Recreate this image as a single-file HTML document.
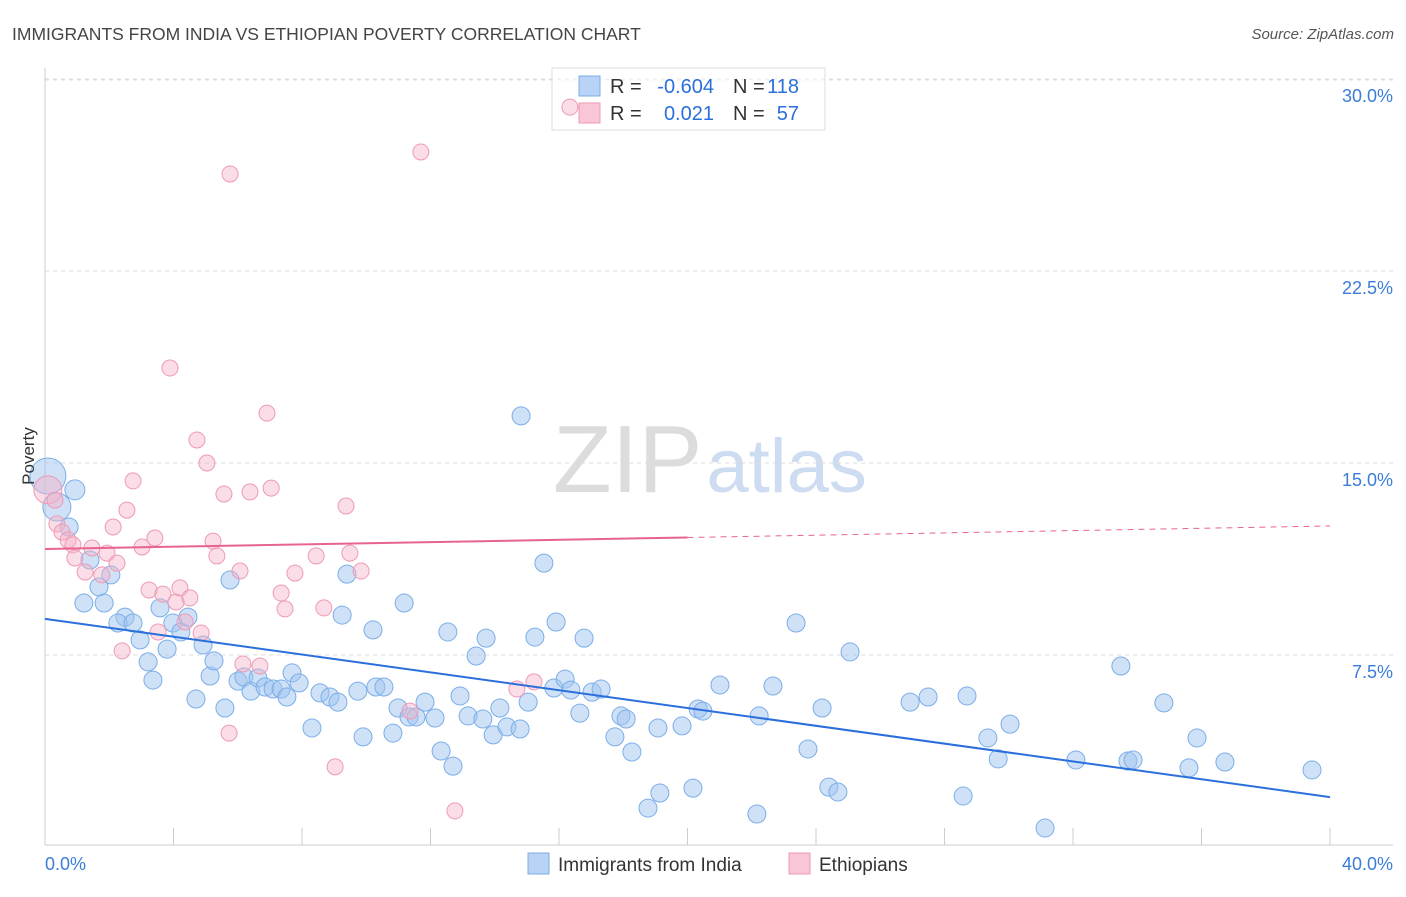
<!DOCTYPE html>
<html><head><meta charset="utf-8"><style>
body{margin:0;background:#fff;font-family:"Liberation Sans",sans-serif}
svg text{font-family:"Liberation Sans",sans-serif}
</style></head><body>
<svg id="chart" width="1406" height="892" xmlns="http://www.w3.org/2000/svg">
<text x="12" y="40" font-size="17.5" fill="#444">IMMIGRANTS FROM INDIA VS ETHIOPIAN POVERTY CORRELATION CHART</text>
<text x="1394" y="39" font-size="15" fill="#555" text-anchor="end" font-style="italic">Source: ZipAtlas.com</text>
<text x="553" y="492" font-size="96" fill="#dcdcdc" font-family="Liberation Serif">ZIP<tspan fill="#cddcf0" font-family="Liberation Sans" font-size="76" dx="4">atlas</tspan></text>
<g id="grid"></g><g id="axes"></g>
<g>
<rect x="552" y="68" width="273" height="62" fill="rgba(255,255,255,0.55)" stroke="#ddd"/>
<rect x="579" y="76" width="21" height="20" fill="#b8d3f5" stroke="#7baee8"/>
<rect x="579" y="103" width="21" height="20" fill="#f8c6d6" stroke="#ee9ab5"/>
<text x="610" y="93" font-size="20" fill="#333">R =</text>
<text x="714" y="93" font-size="20" fill="#2a6fdb" text-anchor="end">-0.604</text>
<text x="733" y="93" font-size="20" fill="#333">N =</text>
<text x="799" y="93" font-size="20" fill="#2a6fdb" text-anchor="end">118</text>
<text x="610" y="120" font-size="20" fill="#333">R =</text>
<text x="714" y="120" font-size="20" fill="#2a6fdb" text-anchor="end">0.021</text>
<text x="733" y="120" font-size="20" fill="#333">N =</text>
<text x="799" y="120" font-size="20" fill="#2a6fdb" text-anchor="end">57</text>
</g>
<g id="marks"></g>
<text transform="translate(34,456) rotate(-90)" font-size="17" fill="#333" text-anchor="middle">Poverty</text>
<text x="45" y="870" font-size="18" fill="#3b7dd8">0.0%</text>
<text x="1393" y="870" font-size="18" fill="#3b7dd8" text-anchor="end">40.0%</text>
<g>
<rect x="528" y="853" width="21" height="21" fill="#b8d3f5" stroke="#7baee8"/>
<text x="558" y="871" font-size="19" fill="#333">Immigrants from India</text>
<rect x="789" y="853" width="21" height="21" fill="#f8c6d6" stroke="#ee9ab5"/>
<text x="819" y="871" font-size="19" fill="#333">Ethiopians</text>
</g>
</svg>
<script>
const yTicks=[7.5,15,22.5,30];
const yTickLabels=["7.5%","15.0%","22.5%","30.0%"];
const blueX=[0.09,0.37,0.93,0.75,1.40,2.05,1.68,1.21,1.84,2.49,2.27,2.74,2.96,3.21,3.36,3.58,3.80,3.98,4.23,4.45,4.70,4.92,5.14,5.26,5.60,5.76,6.01,6.19,6.41,6.63,6.85,7.10,7.35,7.53,7.69,7.91,8.31,8.56,8.87,9.12,9.25,9.40,9.74,9.90,10.30,10.55,10.21,10.83,10.99,11.18,11.33,11.55,11.83,12.14,12.33,12.54,12.70,12.92,13.17,13.42,13.63,13.73,13.95,14.16,14.38,14.79,14.82,15.04,15.25,15.53,15.84,15.91,16.19,16.37,16.65,16.78,17.03,17.31,17.74,17.93,18.09,18.27,18.77,19.08,19.14,19.83,20.17,20.33,20.48,21.01,22.16,22.23,22.66,23.38,23.75,24.19,24.40,24.68,25.06,26.93,27.49,28.58,28.70,29.35,29.67,30.04,31.13,32.09,33.49,33.71,33.87,34.83,35.61,35.86,36.73,39.44];
const blueY=[14.49,13.28,13.95,12.5,11.21,10.63,10.16,9.53,9.53,8.98,8.75,8.75,8.09,7.23,6.52,9.34,7.73,8.75,8.40,8.98,5.78,7.89,6.68,7.27,5.43,10.43,6.48,6.64,6.09,6.60,6.25,6.17,6.17,5.86,6.80,6.41,4.65,6.02,5.86,5.66,9.06,10.66,6.09,4.30,6.25,6.25,8.48,4.45,5.43,9.53,5.08,5.08,5.66,5.04,3.75,8.40,3.16,5.90,5.12,7.46,5.00,8.16,4.38,5.43,4.69,4.61,16.84,5.66,8.20,11.09,6.21,8.79,6.56,6.13,5.23,8.16,6.05,6.17,4.30,5.12,5.00,3.71,1.52,4.65,2.11,4.73,2.30,5.39,5.31,6.33,1.29,5.12,6.29,8.75,3.83,5.43,2.34,2.15,7.62,5.66,5.86,1.99,5.90,4.26,3.44,4.80,0.74,3.40,7.07,3.36,3.40,5.63,3.09,4.26,3.32,3.01];
const pinkX=[0.09,0.31,0.37,0.53,0.72,0.87,0.93,1.25,1.46,1.77,1.93,2.12,2.24,2.55,2.74,2.40,3.02,3.24,3.42,3.52,3.67,3.89,4.08,4.20,4.36,4.51,4.73,4.86,5.04,5.23,5.35,5.57,5.73,5.76,6.07,6.16,6.38,6.69,6.91,7.04,7.35,7.47,7.78,8.44,8.68,9.03,9.37,9.49,9.84,11.36,11.70,12.76,14.69,15.22,16.34];
const pinkY=[13.95,13.55,12.62,12.30,11.99,11.80,11.29,10.74,11.68,10.63,11.48,12.5,11.09,13.16,14.30,7.66,11.72,10.04,12.07,8.40,9.88,18.71,9.57,10.12,8.79,9.73,15.90,8.36,15.0,11.95,11.37,13.79,4.45,26.29,10.78,7.15,13.87,7.07,16.95,14.02,9.92,9.30,10.70,11.37,9.34,3.13,13.32,11.48,10.78,5.31,27.15,1.41,6.17,6.45,28.9];
const blueTrend=[8.91,1.95];
const pinkTrend=[11.64,12.54];
const NS="http://www.w3.org/2000/svg";
const X0=45,X1=1330,Y0=847,PX=25.6;
const sx=v=>X0+(X1-X0)*v/40, sy=v=>Y0-v*PX;
function mk(tag,attrs,parent){const e=document.createElementNS(NS,tag);for(const k in attrs)e.setAttribute(k,attrs[k]);document.getElementById(parent).appendChild(e);return e;}
yTicks.forEach((t,i)=>{
 const l=mk('line',{x1:45,x2:1393,y1:sy(t),y2:sy(t),stroke:'#ddd','stroke-dasharray':'4,4'},'grid');
 
 
 const tx=mk('text',{x:1393,y:sy(t)+23,'font-size':18,fill:'#3b7dd8','text-anchor':'end'},'grid');
 tx.textContent=yTickLabels[i];
 
 
});
const topGrid=mk('line',{x1:45,x2:1393,y1:80,y2:80,stroke:'#ddd','stroke-dasharray':'4,4'},'grid');


const ax=mk('line',{x1:45,x2:45,y1:68,y2:845,stroke:'#ccc'},'axes');


const bx=mk('line',{x1:45,x2:1393,y1:845,y2:845,stroke:'#ccc'},'axes');


for(let i=0;i<=10;i++){const t=mk('line',{x1:sx(i*4),x2:sx(i*4),y1:828,y2:845,stroke:'#ccc'},'axes');
 
 }
blueX.forEach((v,i)=>{const r=i===0?18:(i===1?14:(i===2?10:9));
 const c=mk('circle',{cx:sx(v),cy:sy(blueY[i]),r:r,fill:'rgba(160,196,240,0.5)',stroke:'#7baee8','stroke-width':1},'marks');
 
 });
pinkX.forEach((v,i)=>{const r=i===0?14:8;
 const c=mk('circle',{cx:sx(v),cy:sy(pinkY[i]),r:r,fill:'rgba(244,180,200,0.45)',stroke:'#ee9ab5','stroke-width':1},'marks');
 
 });
const bl=mk('line',{x1:sx(0),y1:sy(blueTrend[0]),x2:sx(40),y2:sy(blueTrend[1]),stroke:'#2a6fdb','stroke-width':2},'marks');


const pm=pinkTrend[0]+(pinkTrend[1]-pinkTrend[0])*0.5;
const pl=mk('line',{x1:sx(0),y1:sy(pinkTrend[0]),x2:sx(20),y2:sy(pm),stroke:'#e8648f','stroke-width':2},'marks');


const pd=mk('line',{x1:sx(20),y1:sy(pm),x2:sx(40),y2:sy(pinkTrend[1]),stroke:'#e8648f','stroke-width':1,'stroke-dasharray':'6,5'},'marks');


</script>
</body></html>
